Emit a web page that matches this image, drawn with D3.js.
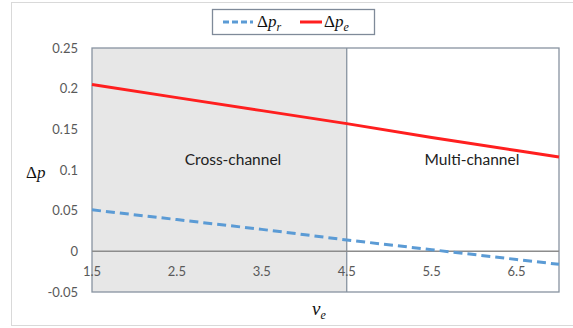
<!DOCTYPE html>
<html lang="en">
<head>
<meta charset="UTF-8">
<title>Delta p vs nu_e</title>
<script src="https://d3js.org/d3.v7.min.js"></script>
<style>
  body { margin: 0; background: #fff; }
  .tick-label { font-family: Lato, "Open Sans", sans-serif; font-size: 13px; fill: #595959; }
  .region-label { font-family: Lato, "Open Sans", sans-serif; font-size: 15.5px; fill: #222; }
  .math { font-family: "Liberation Serif", "DejaVu Serif", serif; font-size: 17px; fill: #111; }
</style>
</head>
<body>
<svg id="chart" width="573" height="328"></svg>
<script>
// data
const nuValues = [1.5, 2.5, 3.5, 4.5, 5.5, 6.5, 7.0];
const deltaPr = [0.051, 0.039, 0.027, 0.014, 0.002, -0.010, -0.016];
const deltaPe = [0.205, 0.189, 0.173, 0.157, 0.140, 0.124, 0.116];
const xTicks = [1.5, 2.5, 3.5, 4.5, 5.5, 6.5];
const yTicks = [-0.05, 0, 0.05, 0.1, 0.15, 0.2, 0.25];
const regionSplit = 4.5;
const regionNames = ["Cross-channel", "Multi-channel"];

const svg = d3.select("#chart");

// outer chart frame (runs past the right edge)
svg.append("rect")
    .attr("x", 11.5).attr("y", 2.5)
    .attr("width", 600).attr("height", 323)
    .attr("fill", "#fff")
    .attr("stroke", "#d9d9d9");

const x = d3.scaleLinear().domain([1.5, 7]).range([92, 559]);
const y = d3.scaleLinear().domain([-0.05, 0.25]).range([292, 48]);

const plot = svg.append("g");

// shaded cross-channel region
plot.append("rect")
    .attr("x", x(1.5)).attr("y", y(0.25))
    .attr("width", x(regionSplit) - x(1.5))
    .attr("height", y(-0.05) - y(0.25))
    .attr("fill", "#e7e7e7");

// plot area border
plot.append("rect")
    .attr("x", x(1.5)).attr("y", y(0.25))
    .attr("width", x(7) - x(1.5))
    .attr("height", y(-0.05) - y(0.25))
    .attr("fill", "none")
    .attr("stroke", "#8893a0")
    .attr("stroke-width", 1.3);

// divider
plot.append("line")
    .attr("x1", x(regionSplit)).attr("x2", x(regionSplit))
    .attr("y1", y(0.25)).attr("y2", y(-0.05))
    .attr("stroke", "#8893a0").attr("stroke-width", 1.3);

// zero axis
plot.append("line")
    .attr("x1", x(1.5)).attr("x2", x(7))
    .attr("y1", y(0)).attr("y2", y(0))
    .attr("stroke", "#8c8c8c").attr("stroke-width", 1.5);

// y tick labels
svg.selectAll("text.ytick").data(yTicks)
    .join("text")
    .attr("class", "tick-label ytick")
    .attr("x", 78)
    .attr("y", d => y(d) + 4.5)
    .attr("text-anchor", "end")
    .text(d => d === 0 ? "0" : String(+d.toFixed(2)));

// x tick labels, sitting under the zero line
svg.selectAll("text.xtick").data(xTicks)
    .join("text")
    .attr("class", "tick-label xtick")
    .attr("x", d => x(d))
    .attr("y", y(0) + 25)
    .attr("text-anchor", "middle")
    .text(d => d.toFixed(1));

// lines
const line = d3.line().x((d, i) => x(nuValues[i])).y(d => y(d));

plot.append("path").datum(deltaPr)
    .attr("d", line)
    .attr("fill", "none")
    .attr("stroke", "#5b9bd5")
    .attr("stroke-width", 3)
    .attr("stroke-dasharray", "9,5");

plot.append("path").datum(deltaPe)
    .attr("d", line)
    .attr("fill", "none")
    .attr("stroke", "#ff1f1f")
    .attr("stroke-width", 3);

// region labels
svg.selectAll("text.region").data(regionNames)
    .join("text")
    .attr("class", "region-label region")
    .attr("x", (d, i) => i === 0 ? 233 : 472)
    .attr("y", 165)
    .attr("text-anchor", "middle")
    .text(d => d);

// axis titles
const yTitle = svg.append("text").attr("class", "math").attr("x", 26).attr("y", 178);
yTitle.append("tspan").text("Δ");
yTitle.append("tspan").attr("font-style", "italic").text("p");

const xTitle = svg.append("text").attr("class", "math").attr("x", 312).attr("y", 315);
xTitle.append("tspan").attr("font-style", "italic").attr("font-size", 19).text("ν");
xTitle.append("tspan").attr("font-style", "italic").attr("font-size", 12).attr("dy", 4).text("e");

// legend
const legend = svg.append("g");
legend.append("rect")
    .attr("x", 212.5).attr("y", 9.5)
    .attr("width", 162).attr("height", 25)
    .attr("fill", "#fff")
    .attr("stroke", "#7f8a99")
    .attr("stroke-width", 1.3);

const legendItems = [
  { sub: "r", color: "#5b9bd5", dash: "6,3", x1: 223, x2: 253, tx: 257 },
  { sub: "e", color: "#ff1f1f", dash: null, x1: 300, x2: 322, tx: 324 }
];

legendItems.forEach(it => {
  legend.append("line")
      .attr("x1", it.x1).attr("x2", it.x2)
      .attr("y1", 22).attr("y2", 22)
      .attr("stroke", it.color)
      .attr("stroke-width", 3)
      .attr("stroke-dasharray", it.dash);
  const t = legend.append("text").attr("class", "math").attr("x", it.tx).attr("y", 27);
  t.append("tspan").text("Δ");
  t.append("tspan").attr("font-style", "italic").text("p");
  t.append("tspan").attr("font-style", "italic").attr("font-size", 12).attr("dy", 4).text(it.sub);
});
</script>
</body>
</html>
